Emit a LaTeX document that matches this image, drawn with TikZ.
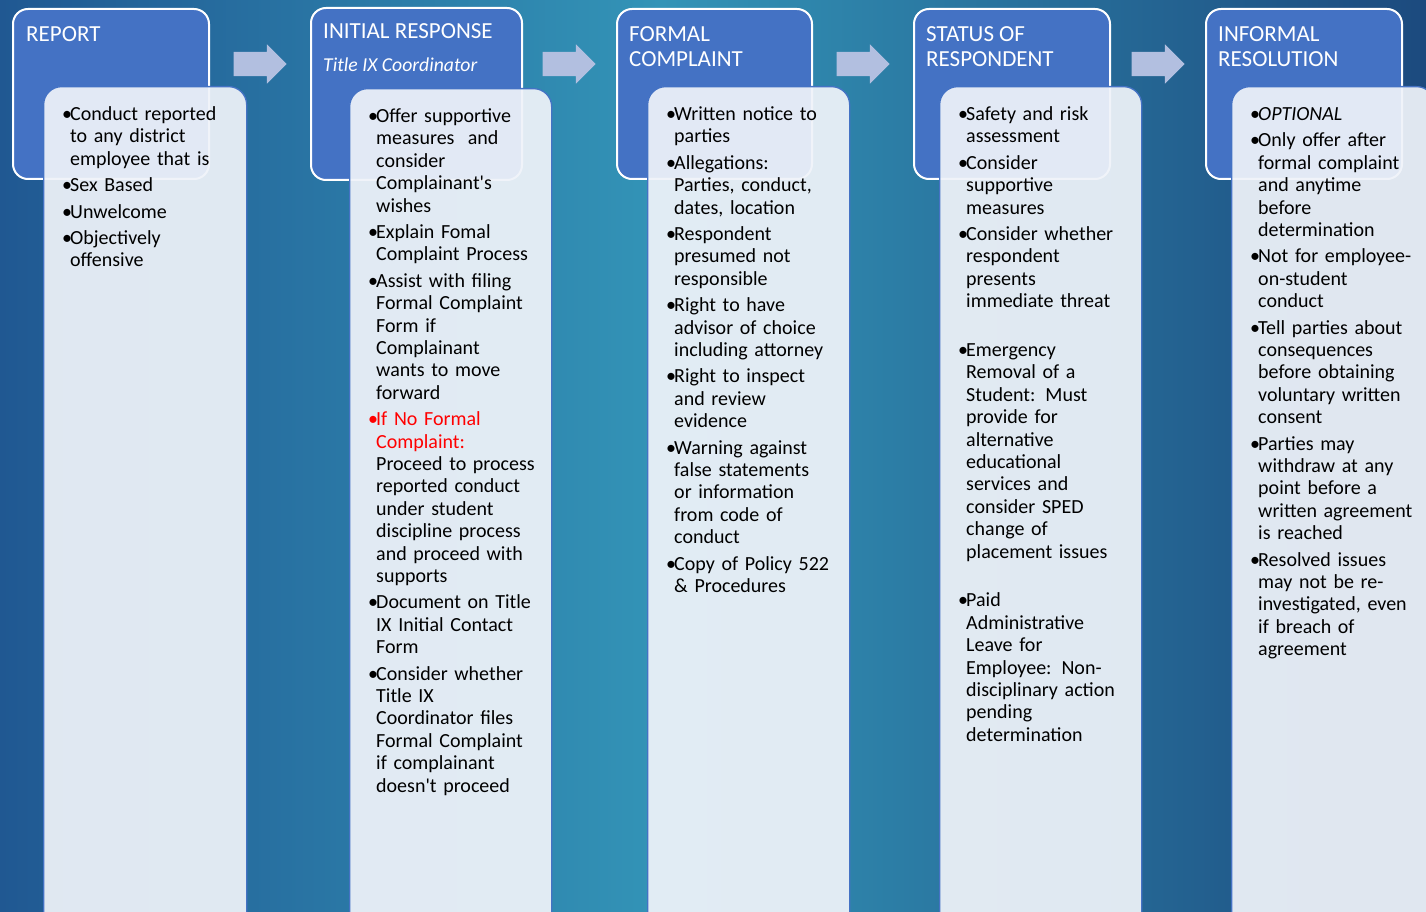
\documentclass[tikz,border=0pt]{standalone}
\usepackage{fontspec}
\setmainfont{Carlito}
\usetikzlibrary{shapes.arrows,positioning}
\tikzstyle{header}=[draw=white,line width=2pt,fill=myblue,rounded corners=15pt,anchor=north west,minimum width=196pt,minimum height=170pt,inner sep=0pt]
\tikzstyle{card}=[draw=myblue,line width=1.3pt,fill=mycard,fill opacity=0.93,rounded corners=18pt,anchor=north west,minimum width=203pt,minimum height=880pt,inner sep=0pt]
\tikzstyle{title}=[text=white,anchor=north west,inner sep=0pt,align=left,font=\fontsize{23}{25}\selectfont]
\tikzstyle{items}=[text=black,anchor=north west,inner sep=0pt,text width=195pt,align=left,font=\fontsize{20}{22.4}\selectfont]
\tikzstyle{flow}=[single arrow,fill=myarrow,draw=none,minimum height=53pt,inner xsep=0pt,inner ysep=12pt,single arrow head extend=7.5pt,single arrow tip angle=90]
\definecolor{myblue}{RGB}{68,114,196}
\definecolor{mycard}{RGB}{239,243,249}
\definecolor{myarrow}{RGB}{178,191,224}
\definecolor{myred}{RGB}{255,0,0}
\definecolor{bgleft}{RGB}{32,88,146}
\definecolor{bgmid}{RGB}{51,148,183}
\definecolor{bgright}{RGB}{28,74,126}
% one bullet point, continuation lines hang under the text
\newcommand{\itm}[1][black]{\par\noindent\color{#1}\strut\makebox[8pt][l]{\textbullet}\hangindent=8pt\hangafter=1\parskip=4pt\relax}
\newcommand{\gap}{\par\vspace{22.4pt}}
\newcommand{\nl}{\newline}

\begin{document}
\begin{tikzpicture}[x=1pt,y=-1pt]
\useasboundingbox (0,0) rectangle (1426,912);
\clip (0,0) rectangle (1426,912);
% background
\shade[left color=bgleft,right color=bgmid] (0,0) rectangle (660,912);
\shade[left color=bgmid,right color=bgright] (660,0) rectangle (1426,912);

% arrows between the steps
\node[flow] (a1) at (254,64) {};
\node[flow] (a2) at (563,64) {};
\node[flow] (a3) at (857,64) {};
\node[flow] (a4) at (1152,64) {};

% step headers
\node[header] (h1) at (12,8) {};
\node[header,minimum width=211pt,minimum height=172pt] (h2) at (310,7) {};
\node[header,minimum width=195pt] (h3) at (616,8) {};
\node[header] (h4) at (913,8) {};
\node[header] (h5) at (1205,8) {};
\node[title] (t1) at ([shift={(14,16)}]h1.north west) {\strut REPORT};
\node[title] (t2) at ([shift={(13,14)}]h2.north west) {\strut INITIAL RESPONSE\\[8pt]{\fontsize{19.7}{22}\selectfont\itshape Title IX Coordinator}};
\node[title] (t3) at ([shift={(13,16)}]h3.north west) {\strut FORMAL\\COMPLAINT};
\node[title] (t4) at ([shift={(13,16)}]h4.north west) {\strut STATUS OF\\RESPONDENT};
\node[title] (t5) at ([shift={(13,16)}]h5.north west) {\strut INFORMAL\\RESOLUTION};

% detail cards
\node[card] (c1) at (43,86) {};
\node[card,minimum width=202pt] (c2) at (349,88) {};
\node[card,minimum width=202pt] (c3) at (647,86) {};
\node[card,minimum width=202pt] (c4) at (939,86) {};
\node[card] (c5) at (1231,86) {};

\node[items] (b1) at ([shift={(19,12)}]c1.north west) {%
\itm Conduct reported\nl to any district\nl employee that is
\itm Sex Based
\itm Unwelcome
\itm Objectively\nl offensive\par};

\node[items] (b2) at ([shift={(19,12)}]c2.north west) {%
\itm Offer supportive\nl measures~ and\nl consider\nl Complainant\textquotesingle s\nl wishes
\itm Explain Fomal\nl Complaint Process
\itm Assist with filing\nl Formal Complaint\nl Form if\nl Complainant\nl wants to move\nl forward
\itm[myred]If No Formal\nl Complaint:\nl \color{black}Proceed to process\nl reported conduct\nl under student\nl discipline process\nl and proceed with\nl supports
\itm Document on Title\nl IX Initial Contact\nl Form
\itm Consider whether\nl Title IX\nl Coordinator files\nl Formal Complaint\nl if complainant\nl doesn\textquotesingle t proceed\par};

\node[items] (b3) at ([shift={(19,12)}]c3.north west) {%
\itm Written notice to\nl parties
\itm Allegations:\nl Parties, conduct,\nl dates, location
\itm Respondent\nl presumed not\nl responsible
\itm Right to have\nl advisor of choice\nl including attorney
\itm Right to inspect\nl and review\nl evidence
\itm Warning against\nl false statements\nl or information\nl from code of\nl conduct
\itm Copy of Policy 522\nl \& Procedures\par};

\node[items] (b4) at ([shift={(19,12)}]c4.north west) {%
\itm Safety and risk\nl assessment
\itm Consider\nl supportive\nl measures
\itm Consider whether\nl respondent\nl presents\nl immediate threat
\gap
\itm Emergency\nl Removal of a\nl Student: Must\nl provide for\nl alternative\nl educational\nl services and\nl consider SPED\nl change of\nl placement issues
\gap
\itm Paid\nl Administrative\nl Leave for\nl Employee: Non-\nl disciplinary action\nl pending\nl determination\par};

\node[items] (b5) at ([shift={(19,12)}]c5.north west) {%
\itm \textit{OPTIONAL}
\itm Only offer after\nl formal complaint\nl and anytime\nl before\nl determination
\itm Not for employee-\nl on-student\nl conduct
\itm Tell parties about\nl consequences\nl before obtaining\nl voluntary written\nl consent
\itm Parties may\nl withdraw at any\nl point before a\nl written agreement\nl is reached
\itm Resolved issues\nl may not be re-\nl investigated, even\nl if breach of\nl agreement\par};
\end{tikzpicture}
\end{document}
